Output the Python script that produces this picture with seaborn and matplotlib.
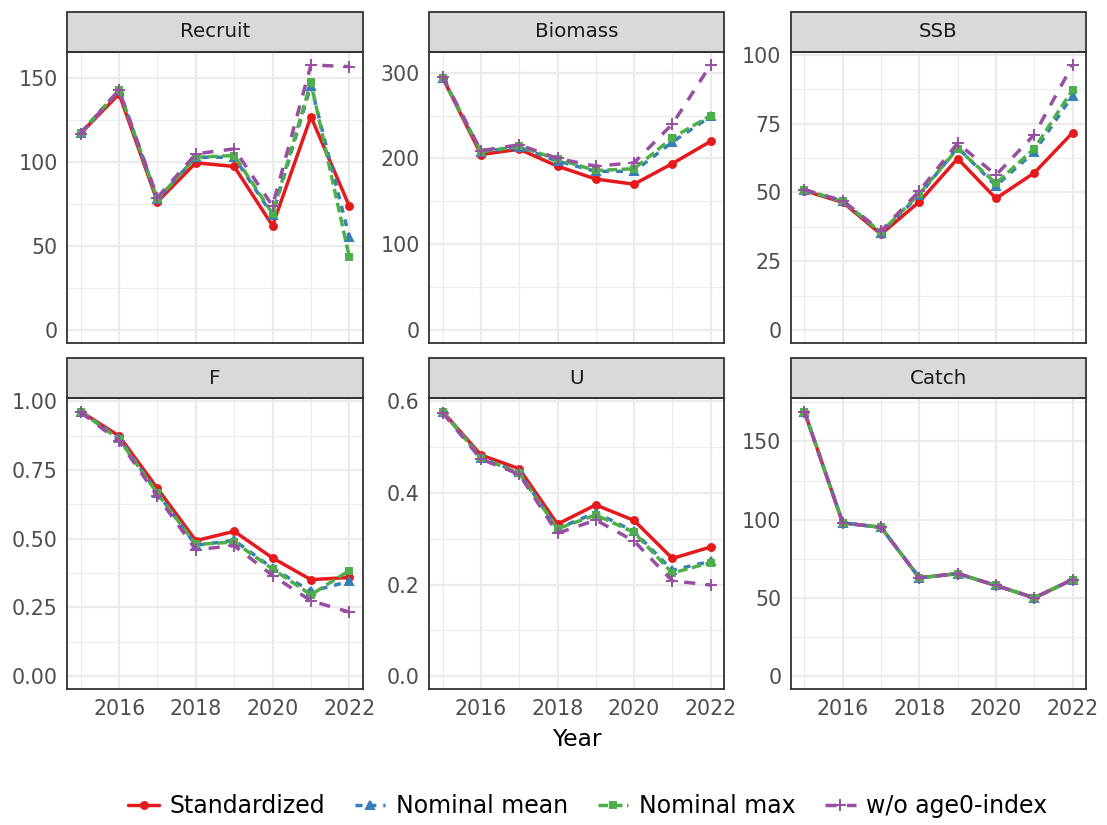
import pandas as pd
import matplotlib
matplotlib.use("Agg")
import matplotlib.pyplot as plt
import seaborn as sns
from matplotlib.patches import Rectangle
from matplotlib.lines import Line2D
from matplotlib.ticker import FixedLocator, MultipleLocator

# ---- data ----
years = [2015, 2016, 2017, 2018, 2019, 2020, 2021, 2022]
series_names = ["Standardized", "Nominal mean", "Nominal max", "w/o age0-index"]
panel_names = ["Recruit", "Biomass", "SSB", "F", "U", "Catch"]

recruit = {
    "Standardized":   [117.3, 140.7, 76.5, 99.7, 97.5, 62.2, 127.2, 73.9],
    "Nominal mean":   [117.5, 143.0, 78.0, 103.0, 103.0, 68.4, 145.7, 55.5],
    "Nominal max":    [117.5, 143.0, 78.0, 103.0, 104.0, 69.4, 147.6, 43.6],
    "w/o age0-index": [117.0, 143.0, 79.0, 105.0, 108.0, 74.0, 158.0, 157.0],
}
biomass = {
    "Standardized":   [294, 204.6, 210.8, 191, 176, 170, 194, 220],
    "Nominal mean":   [294, 208, 213, 197, 185, 185, 219, 249],
    "Nominal max":    [294, 208, 214, 199, 186, 188, 224, 250],
    "w/o age0-index": [295, 209, 216, 200, 191, 195, 240, 309],
}
ssb = {
    "Standardized":   [50.6, 46.4, 34.8, 46.6, 62.3, 47.8, 57.1, 71.7],
    "Nominal mean":   [50.8, 46.8, 35.4, 49.0, 66.3, 52.4, 64.7, 85.2],
    "Nominal max":    [50.8, 46.8, 35.5, 49.5, 65.9, 53.3, 65.9, 87.3],
    "w/o age0-index": [51.0, 47.0, 36.0, 50.5, 67.9, 56.3, 71.0, 96.3],
}
f_rate = {
    "Standardized":   [0.963, 0.874, 0.683, 0.493, 0.527, 0.430, 0.351, 0.359],
    "Nominal mean":   [0.963, 0.866, 0.667, 0.476, 0.494, 0.393, 0.308, 0.345],
    "Nominal max":    [0.963, 0.862, 0.665, 0.479, 0.488, 0.390, 0.296, 0.384],
    "w/o age0-index": [0.960, 0.855, 0.655, 0.460, 0.475, 0.366, 0.274, 0.233],
}
u_rate = {
    "Standardized":   [0.578, 0.483, 0.453, 0.332, 0.374, 0.340, 0.257, 0.282],
    "Nominal mean":   [0.578, 0.477, 0.445, 0.322, 0.357, 0.316, 0.231, 0.251],
    "Nominal max":    [0.578, 0.477, 0.443, 0.322, 0.352, 0.314, 0.225, 0.248],
    "w/o age0-index": [0.575, 0.474, 0.441, 0.312, 0.341, 0.295, 0.208, 0.199],
}
catch_all = [169.1, 97.9, 95.1, 62.8, 65.5, 57.9, 50.0, 61.7]
catch = {s: catch_all for s in series_names}

recruit_ticks = [0, 50, 100, 150]
biomass_ticks = [0, 100, 200, 300]
ssb_ticks = [0, 25, 50, 75, 100]
f_ticks = [0.0, 0.25, 0.50, 0.75, 1.00]
u_ticks = [0.0, 0.2, 0.4, 0.6]
catch_ticks = [0, 50, 100, 150]
x_ticks = [2016, 2018, 2020, 2022]

panel_data = [recruit, biomass, ssb, f_rate, u_rate, catch]
panel_ticks = [recruit_ticks, biomass_ticks, ssb_ticks, f_ticks, u_ticks, catch_ticks]
panel_fmt = ["{:.0f}", "{:.0f}", "{:.0f}", "{:.2f}", "{:.1f}", "{:.0f}"]

rows = []
for pname, pdata in zip(panel_names, panel_data):
    for s in series_names:
        for y, v in zip(years, pdata[s]):
            rows.append({"Panel": pname, "Series": s, "Year": y, "Value": v})
df = pd.DataFrame(rows)

# ---- style (ggplot2 theme_bw look) ----
sns.set_style("white")
plt.rcParams["font.family"] = ["DejaVu Sans"]

palette = {"Standardized": "#E41A1C", "Nominal mean": "#377EB8",
           "Nominal max": "#4DAF4A", "w/o age0-index": "#984EA3"}
linestyles = {"Standardized": "-", "Nominal mean": (0, (2, 2)),
              "Nominal max": (0, (2.8, 1.3)), "w/o age0-index": (0, (3.2, 3.0))}
markers = {"Standardized": "o", "Nominal mean": "^",
           "Nominal max": "s", "w/o age0-index": "+"}
msizes = {"Standardized": 5, "Nominal mean": 6, "Nominal max": 5,
          "w/o age0-index": 8}
LW = 2.5

fig = plt.figure(figsize=(11.07, 8.25), dpi=100)

W, H = 1107, 825
col_x = [(67.3, 362.7), (429.3, 724.0), (791.0, 1086.0)]
row_y = [(51.7, 343.3), (398.3, 689.3)]
strip_px = 40.0

for i, pname in enumerate(panel_names):
    r, c = divmod(i, 3)
    x0, x1 = col_x[c]
    y0, y1 = row_y[r]
    ax = fig.add_axes([x0 / W, 1 - y1 / H, (x1 - x0) / W, (y1 - y0) / H])
    sub = df[df["Panel"] == pname]
    # one call per series, drawn in legend order (later series on top)
    for s in series_names:
        sns.lineplot(data=sub[sub["Series"] == s], x="Year", y="Value",
                     color=palette[s], linestyle=linestyles[s],
                     marker=markers[s], markersize=msizes[s],
                     markeredgewidth=1.4, markeredgecolor=palette[s],
                     linewidth=LW, ax=ax)

    ticks = panel_ticks[i]
    vmax = sub["Value"].max()
    pad = 0.05 * vmax
    ax.set_ylim(-pad, vmax + pad)
    ax.set_xlim(2015 - 0.35, 2022 + 0.35)
    step = ticks[1] - ticks[0]
    ax.yaxis.set_major_locator(FixedLocator(ticks))
    ax.yaxis.set_minor_locator(MultipleLocator(step / 2))
    ax.set_yticklabels([panel_fmt[i].format(t) for t in ticks])
    ax.xaxis.set_major_locator(FixedLocator(x_ticks))
    ax.xaxis.set_minor_locator(MultipleLocator(1))
    if r == 0:
        ax.set_xticklabels([])
    else:
        ax.set_xticklabels([str(t) for t in x_ticks])

    ax.grid(True, which="major", color="#EBEBEB", linewidth=1.6)
    ax.grid(True, which="minor", color="#EBEBEB", linewidth=0.8)
    ax.set_axisbelow(True)
    ax.tick_params(which="major", length=4, width=1.2, color="#333333",
                   labelsize=14.8, labelcolor="#4D4D4D", pad=3)
    ax.tick_params(which="minor", length=0)
    for sp in ax.spines.values():
        sp.set_color("#333333")
        sp.set_linewidth(1.3)
    ax.set_xlabel("")
    ax.set_ylabel("")

    # facet strip
    sh = strip_px / (y1 - y0)
    ax.add_patch(Rectangle((0, 1), 1, sh, transform=ax.transAxes,
                           facecolor="#D9D9D9", edgecolor="#333333",
                           linewidth=1.3, clip_on=False))
    ax.text(0.5, 1 + sh / 2, pname, transform=ax.transAxes, ha="center",
            va="center", fontsize=14.3, color="#1A1A1A")

fig.text((67.3 + 1086) / 2 / W, 1 - 740 / H, "Year", ha="center",
         va="center", fontsize=16.8, color="black")

handles = [Line2D([], [], color=palette[s], marker=markers[s],
                  linestyle=linestyles[s], linewidth=LW,
                  markersize=msizes[s], markeredgewidth=1.4)
           for s in series_names]
leg = fig.legend(handles, series_names, loc="center", ncol=4,
                 bbox_to_anchor=(0.531, 1 - 806 / H), frameon=False,
                 fontsize=17, handlelength=1.3, handletextpad=0.45,
                 columnspacing=1.25)
for t in leg.get_texts():
    t.set_color("black")

fig.savefig("out.png", dpi=100)
